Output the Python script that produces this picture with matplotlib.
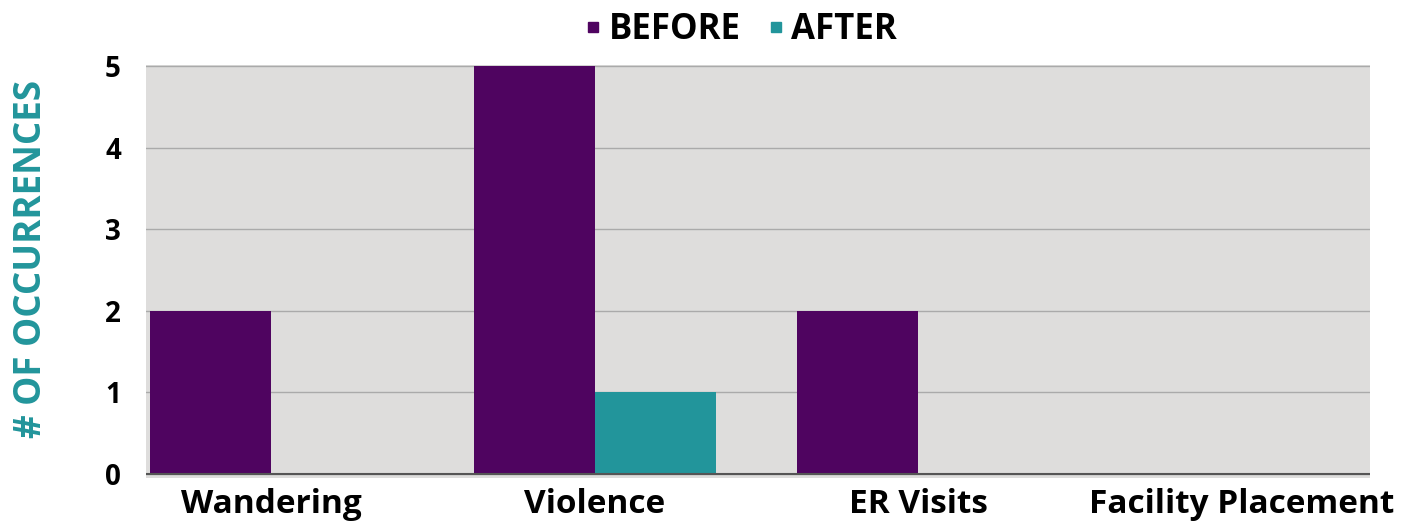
import matplotlib
matplotlib.use("Agg")
import matplotlib.pyplot as plt
from matplotlib.lines import Line2D
import numpy as np

plt.rcParams['font.family'] = ['Open Sans', 'DejaVu Sans']

# data
categories = ["Wandering", "Violence", "ER Visits", "Facility Placement"]
before = [2, 5, 2, 0]
after = [0, 1, 0, 0]
y_ticks = [0, 1, 2, 3, 4, 5]

purple = "#4f0460"
teal = "#22959b"
bg_gray = "#dedddc"

fig = plt.figure(figsize=(14.03, 5.31), dpi=100)
ax = fig.add_axes([146 / 1403, 53 / 531, 1224 / 1403, 413 / 531])
ax.set_facecolor(bg_gray)

x = np.arange(len(categories))
w = 0.374
ax.bar(x - w / 2, before, width=w, color=purple, zorder=3)
ax.bar(x + w / 2, after, width=w, color=teal, zorder=3)

ax.set_xlim(-0.386, 3.395)
ax.set_ylim(-0.05, 5.012)
ax.set_yticks(y_ticks)
ax.set_yticklabels([str(t) for t in y_ticks], fontsize=20, fontweight="bold")
ax.set_xticks(x)
ax.set_xticklabels(categories, fontsize=24, fontweight="bold")
ax.tick_params(axis="y", length=0, pad=18)
ax.tick_params(axis="x", length=0, pad=7)
for s in ax.spines.values():
    s.set_visible(False)
ax.yaxis.grid(True, color="#aaaaaa", lw=1, zorder=1)
ax.axhline(0, color="#555555", lw=1.5, zorder=4)

ax.set_ylabel("# OF OCCURRENCES", fontsize=26.5, fontweight="bold", color=teal, labelpad=40)
ax.yaxis.label.set_y(0.53)

handles = [Line2D([], [], marker="s", ls="", color=purple, markersize=7),
           Line2D([], [], marker="s", ls="", color=teal, markersize=7)]
fig.legend(handles, ["BEFORE", "AFTER"], loc="center", bbox_to_anchor=(740 / 1403, 1 - 30 / 531),
           ncol=2, frameon=False, prop={"size": 25, "weight": "bold"},
           handlelength=0.6, handletextpad=0.15, columnspacing=0.7)

fig.savefig("out.png", dpi=100)
